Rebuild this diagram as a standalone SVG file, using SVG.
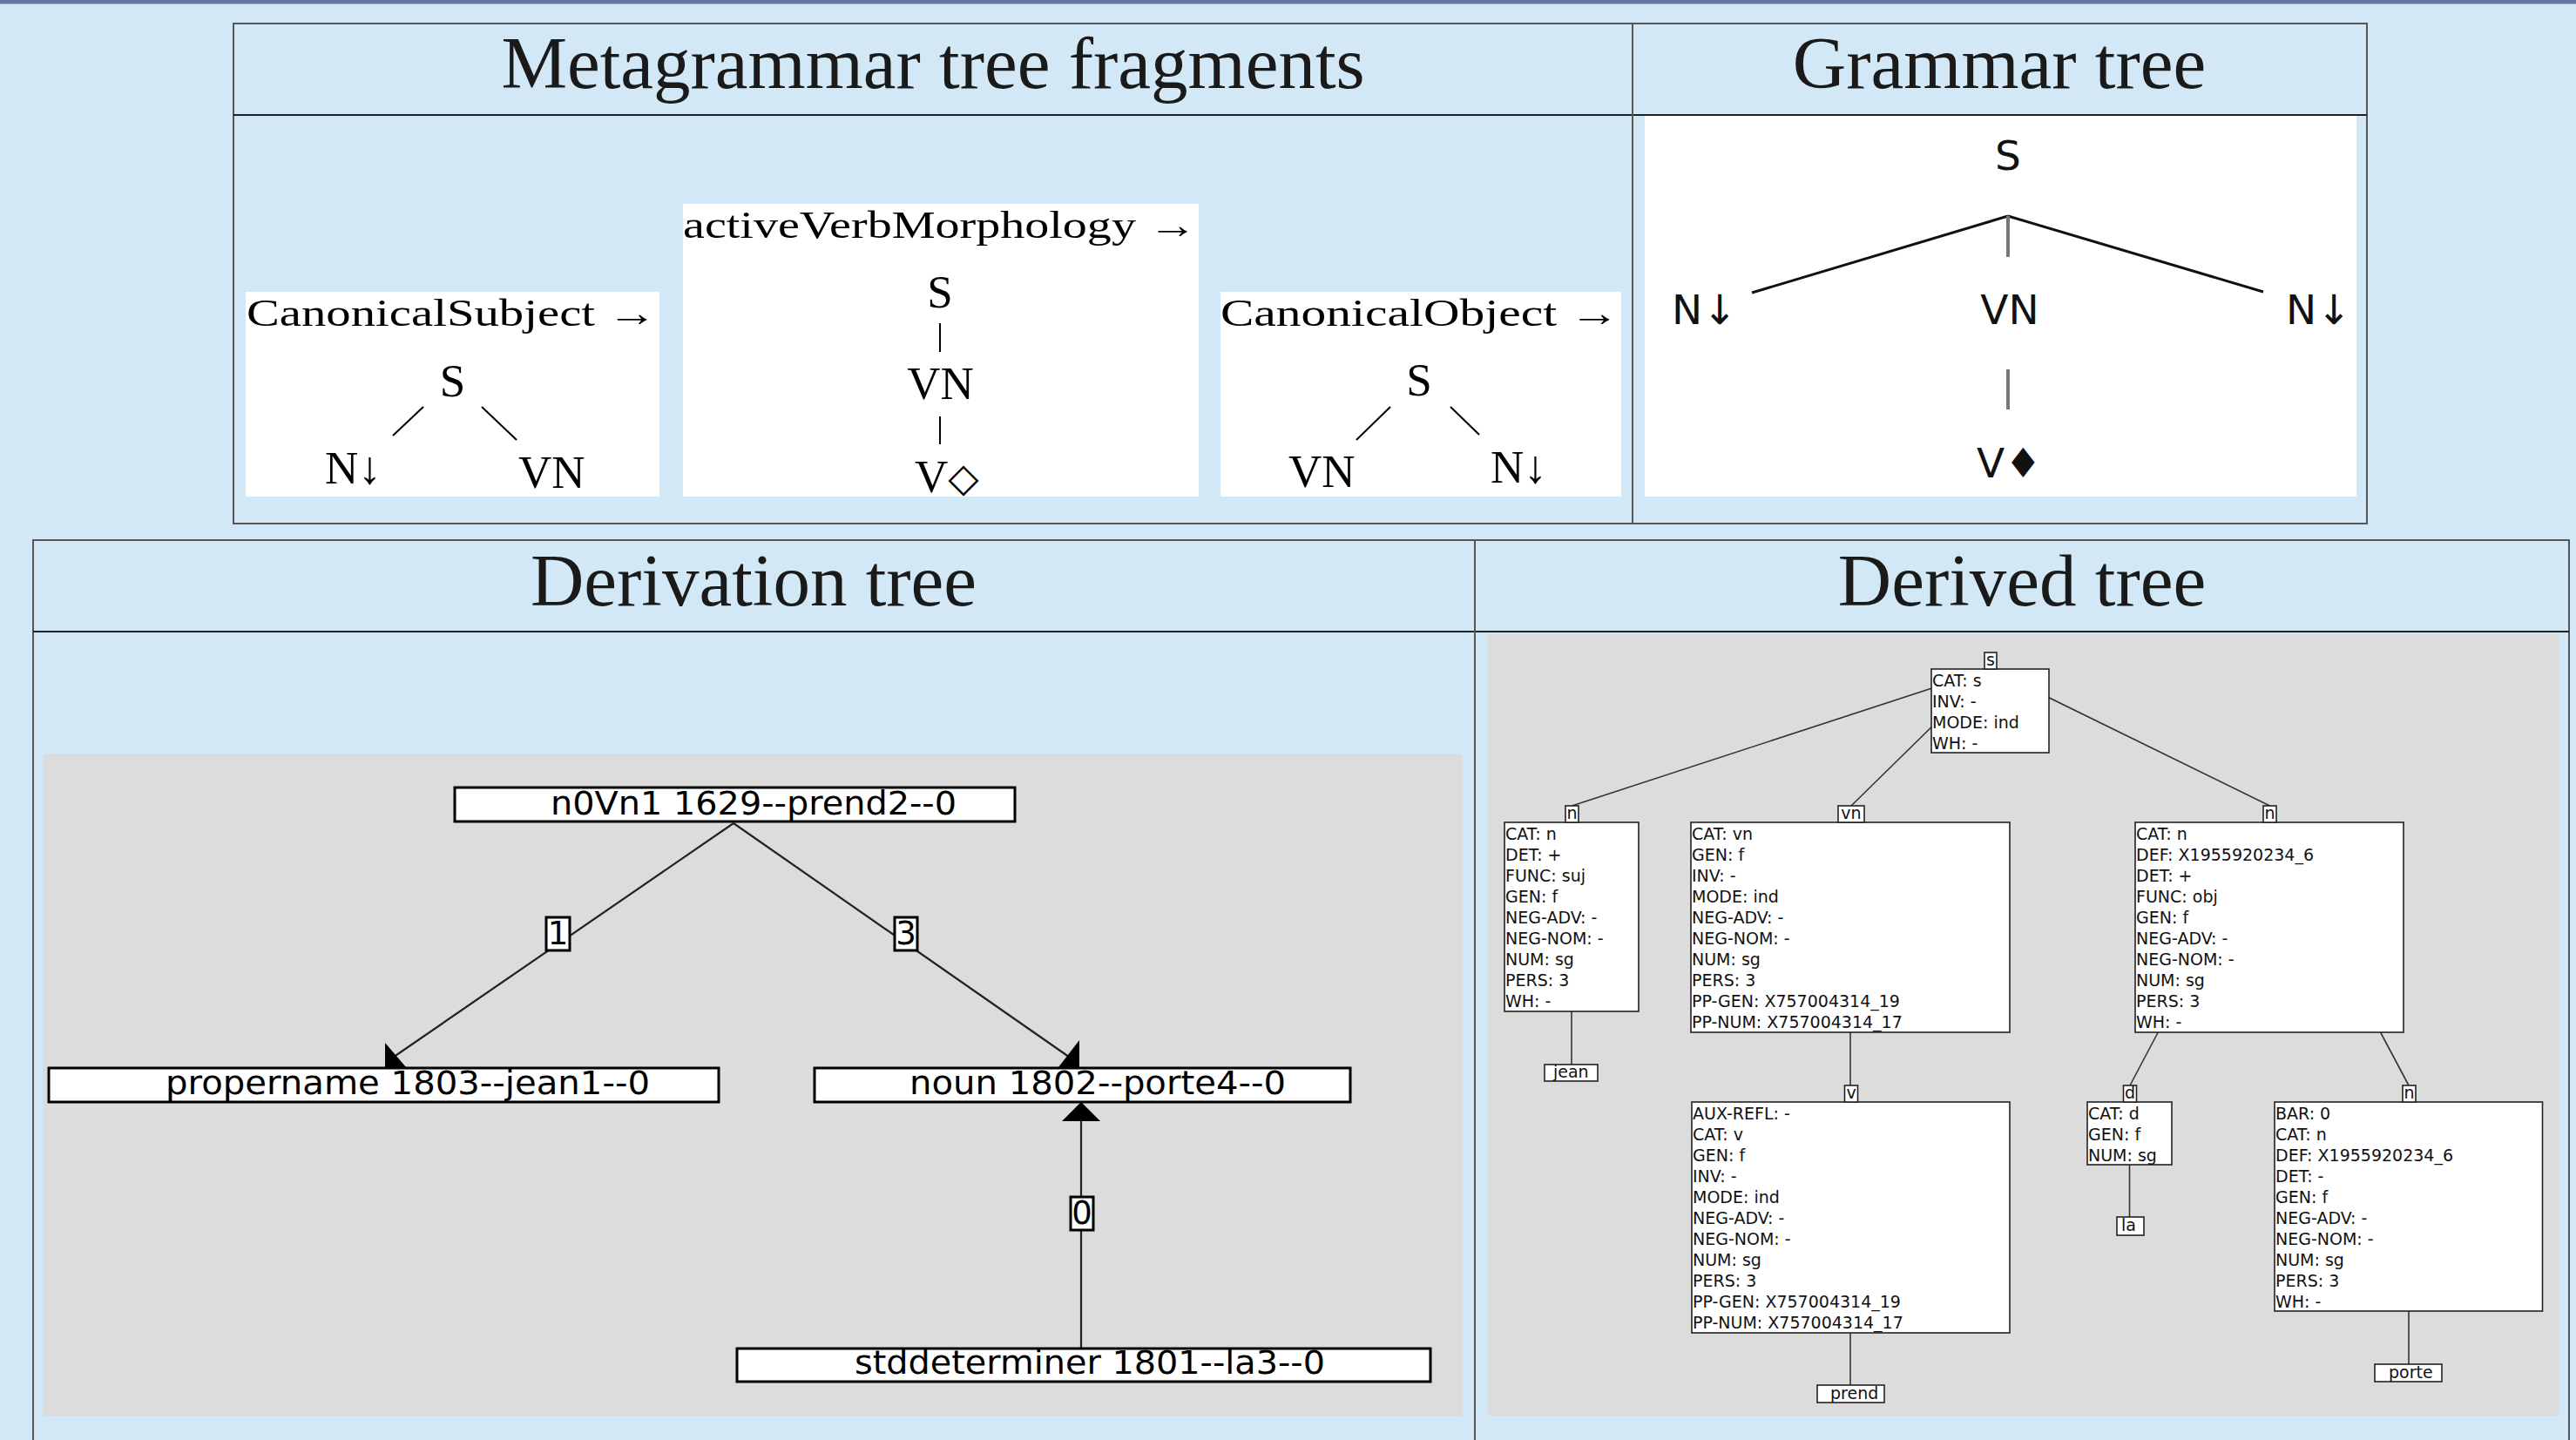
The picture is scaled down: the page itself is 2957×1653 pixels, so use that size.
<svg xmlns="http://www.w3.org/2000/svg" width="2957" height="1653" viewBox="0 0 2957 1653">
  <style>
    .title { font-family: "Liberation Serif", "Times New Roman", serif; font-size: 85px; fill: #1a1a1a; text-anchor: middle; }
    .panel { fill: none; stroke: #555; stroke-width: 2; }
    .rule { stroke: #222; stroke-width: 2; }
    .cm { font-family: "Liberation Serif", "Times New Roman", serif; fill: #000; }
    .frag-label { font-size: 44px; }
    .frag-node { font-size: 53px; }
    .frag-edge { stroke: #000; stroke-width: 2; }
    .gt { font-family: "DejaVu Sans", sans-serif; font-size: 47px; fill: #111; }
    .gt-edge { stroke: #111; stroke-width: 3; }
    .gt-stem { stroke: #777; stroke-width: 4; }
    .dv-box { fill: #fff; stroke: #000; stroke-width: 3; }
    .dv-text { font-family: "DejaVu Sans", sans-serif; font-size: 37px; fill: #000; }
    .dv-edge { stroke: #222; stroke-width: 2.2; fill: none; }
    .fs-box { fill: #fff; stroke: #222; stroke-width: 1.6; }
    .fs-text { font-family: "DejaVu Sans", sans-serif; font-size: 19px; fill: #111; }
    .fs-edge { stroke: #333; stroke-width: 1.6; }
  </style>

  <!-- page background and top bar -->
  <rect x="0" y="0" width="2957" height="1653" fill="#d3e8f6"/>
  <rect x="0" y="0" width="2957" height="4.5" fill="#64799f"/>

  <!-- upper table: fragments and grammar tree -->
  <g id="upper-table">
    <rect class="panel" x="268" y="27" width="2449" height="574"/>
    <line class="rule" x1="268" y1="132" x2="2717" y2="132"/>
    <line class="panel" x1="1874" y1="27" x2="1874" y2="601"/>
    <text class="title" x="1071" y="101">Metagrammar tree fragments</text>
    <text class="title" x="2295" y="101">Grammar tree</text>
  </g>

  <!-- fragment: CanonicalSubject -->
  <g id="frag-subject">
    <rect x="282" y="335" width="475" height="235" fill="#fff"/>
    <text class="cm frag-label" x="283" y="374" textLength="471" lengthAdjust="spacingAndGlyphs">CanonicalSubject →</text>
    <text class="cm frag-node" x="519.5" y="455" text-anchor="middle">S</text>
    <line class="frag-edge" x1="486" y1="467" x2="451" y2="500"/>
    <line class="frag-edge" x1="553" y1="467" x2="593" y2="505"/>
    <text class="cm frag-node" x="373" y="555">N↓</text>
    <text class="cm frag-node" x="595" y="560">VN</text>
  </g>

  <!-- fragment: activeVerbMorphology -->
  <g id="frag-verb">
    <rect x="784" y="234" width="592" height="336" fill="#fff"/>
    <text class="cm frag-label" x="784" y="273" textLength="590" lengthAdjust="spacingAndGlyphs">activeVerbMorphology →</text>
    <text class="cm frag-node" x="1079" y="353" text-anchor="middle">S</text>
    <line class="frag-edge" x1="1079" y1="371" x2="1079" y2="404"/>
    <text class="cm frag-node" x="1079.5" y="458" text-anchor="middle">VN</text>
    <line class="frag-edge" x1="1079" y1="478" x2="1079" y2="510"/>
    <text class="cm frag-node" x="1050" y="565">V<tspan font-family="DejaVu Sans, sans-serif" font-size="46px" dx="0" dy="-1">◇</tspan></text>
  </g>

  <!-- fragment: CanonicalObject -->
  <g id="frag-object">
    <rect x="1401" y="335" width="460" height="235" fill="#fff"/>
    <text class="cm frag-label" x="1401" y="374" textLength="458" lengthAdjust="spacingAndGlyphs">CanonicalObject →</text>
    <text class="cm frag-node" x="1629" y="454" text-anchor="middle">S</text>
    <line class="frag-edge" x1="1596" y1="467" x2="1557" y2="505"/>
    <line class="frag-edge" x1="1665" y1="467" x2="1698" y2="499"/>
    <text class="cm frag-node" x="1479" y="559">VN</text>
    <text class="cm frag-node" x="1711" y="554">N↓</text>
  </g>

  <!-- grammar tree -->
  <g id="grammar-tree">
    <rect x="1888" y="133" width="817" height="437" fill="#fff"/>
    <text class="gt" x="2305" y="195" text-anchor="middle">S</text>
    <line class="gt-edge" x1="2305" y1="248" x2="2011" y2="336"/>
    <line class="gt-edge" x1="2305" y1="248" x2="2598" y2="335"/>
    <line class="gt-stem" x1="2305" y1="248" x2="2305" y2="295"/>
    <text class="gt" x="1919" y="372">N↓</text>
    <text class="gt" x="2307" y="372" text-anchor="middle">VN</text>
    <text class="gt" x="2624" y="372">N↓</text>
    <line class="gt-stem" x1="2305" y1="424" x2="2305" y2="470"/>
    <text class="gt" x="2269" y="548">V♦</text>
  </g>

  <!-- lower table: derivation and derived trees -->
  <g id="lower-table">
    <rect class="panel" x="38" y="620" width="2911" height="1100"/>
    <line class="rule" x1="38" y1="725" x2="2949" y2="725"/>
    <line class="panel" x1="1693" y1="620" x2="1693" y2="1653"/>
    <text class="title" x="865" y="695">Derivation tree</text>
    <text class="title" x="2321" y="695">Derived tree</text>
    <rect x="49" y="865" width="1630" height="760" fill="#dcdcdc"/>
    <rect x="1708" y="727" width="1229" height="898" fill="#dcdcdc"/>
  </g>

  <!-- derivation tree connectors -->
  <g id="derivation-edges">
    <line class="dv-edge" x1="842" y1="945" x2="445" y2="1218"/>
    <line class="dv-edge" x1="842" y1="945" x2="1234" y2="1218"/>
    <line class="dv-edge" x1="1241" y1="1547" x2="1241" y2="1284"/>
    <polygon points="442,1197 466,1225 442,1226" fill="#000"/>
    <polygon points="1239,1194 1239,1226 1215,1225" fill="#000"/>
    <polygon points="1241,1265 1219,1287 1263,1287" fill="#000"/>
    <g id="edge-label-1">
      <rect class="dv-box" x="627" y="1053" width="27" height="38"/>
      <text class="dv-text" x="640.5" y="1084" text-anchor="middle">1</text>
    </g>
    <g id="edge-label-3">
      <rect class="dv-box" x="1027" y="1053" width="26" height="38"/>
      <text class="dv-text" x="1040" y="1084" text-anchor="middle">3</text>
    </g>
    <g id="edge-label-0">
      <rect class="dv-box" x="1229" y="1374" width="26" height="38"/>
      <text class="dv-text" x="1242" y="1405" text-anchor="middle">0</text>
    </g>
  </g>

  <!-- derivation tree nodes -->
  <g id="dv-prend">
    <rect class="dv-box" x="522" y="904" width="643" height="39"/>
    <text class="dv-text" x="632" y="935" textLength="466" lengthAdjust="spacingAndGlyphs">n0Vn1  1629--prend2--0</text>
  </g>
  <g id="dv-jean">
    <rect class="dv-box" x="56" y="1226" width="769" height="39"/>
    <text class="dv-text" x="190" y="1256" textLength="556" lengthAdjust="spacingAndGlyphs">propername  1803--jean1--0</text>
  </g>
  <g id="dv-porte">
    <rect class="dv-box" x="935" y="1226" width="615" height="39"/>
    <text class="dv-text" x="1044" y="1256" textLength="432" lengthAdjust="spacingAndGlyphs">noun  1802--porte4--0</text>
  </g>
  <g id="dv-la">
    <rect class="dv-box" x="846" y="1548" width="796" height="38"/>
    <text class="dv-text" x="981" y="1577" textLength="540" lengthAdjust="spacingAndGlyphs">stddeterminer  1801--la3--0</text>
  </g>

  <!-- derived tree connectors -->
  <g id="derived-edges">
    <line class="fs-edge" x1="2285" y1="768" x2="1804.5" y2="925"/>
    <line class="fs-edge" x1="2285" y1="768" x2="2125" y2="925"/>
    <line class="fs-edge" x1="2285" y1="768" x2="2605.5" y2="925"/>
    <line class="fs-edge" x1="1804" y1="1161" x2="1804" y2="1222"/>
    <line class="fs-edge" x1="2124" y1="1185" x2="2124" y2="1246"/>
    <line class="fs-edge" x1="2124" y1="1530" x2="2124" y2="1590"/>
    <line class="fs-edge" x1="2604.5" y1="944" x2="2445" y2="1246"/>
    <line class="fs-edge" x1="2604.5" y1="944" x2="2765" y2="1246"/>
    <line class="fs-edge" x1="2444.5" y1="1337" x2="2444.5" y2="1397"/>
    <line class="fs-edge" x1="2765" y1="1505" x2="2765" y2="1566"/>
  </g>

  <!-- derived tree nodes -->
  <g id="ft-s">
    <rect class="fs-box" x="2217" y="768" width="135" height="96"/>
    <rect class="fs-box" x="2278" y="749" width="14" height="19"/>
    <text class="fs-text" x="2285" y="764" text-anchor="middle">s</text>
    <text class="fs-text" x="2218">
      <tspan x="2218" y="788">CAT: s</tspan>
      <tspan x="2218" y="812">INV: -</tspan>
      <tspan x="2218" y="836">MODE: ind</tspan>
      <tspan x="2218" y="860">WH: -</tspan>
    </text>
  </g>

  <g id="ft-n-subj">
    <rect class="fs-box" x="1727" y="944" width="154" height="217"/>
    <rect class="fs-box" x="1797" y="925" width="15" height="19"/>
    <text class="fs-text" x="1804.5" y="940" text-anchor="middle">n</text>
    <text class="fs-text">
      <tspan x="1728" y="964">CAT: n</tspan>
      <tspan x="1728" y="988">DET: +</tspan>
      <tspan x="1728" y="1012">FUNC: suj</tspan>
      <tspan x="1728" y="1036">GEN: f</tspan>
      <tspan x="1728" y="1060">NEG-ADV: -</tspan>
      <tspan x="1728" y="1084">NEG-NOM: -</tspan>
      <tspan x="1728" y="1108">NUM: sg</tspan>
      <tspan x="1728" y="1132">PERS: 3</tspan>
      <tspan x="1728" y="1156">WH: -</tspan>
    </text>
  </g>

  <g id="ft-jean">
    <rect class="fs-box" x="1773" y="1222" width="61" height="19"/>
    <text class="fs-text" x="1783" y="1237">jean</text>
  </g>

  <g id="ft-vn">
    <rect class="fs-box" x="1941" y="944" width="366" height="241"/>
    <rect class="fs-box" x="2110" y="925" width="30" height="19"/>
    <text class="fs-text" x="2125" y="940" text-anchor="middle">vn</text>
    <text class="fs-text">
      <tspan x="1942" y="964">CAT: vn</tspan>
      <tspan x="1942" y="988">GEN: f</tspan>
      <tspan x="1942" y="1012">INV: -</tspan>
      <tspan x="1942" y="1036">MODE: ind</tspan>
      <tspan x="1942" y="1060">NEG-ADV: -</tspan>
      <tspan x="1942" y="1084">NEG-NOM: -</tspan>
      <tspan x="1942" y="1108">NUM: sg</tspan>
      <tspan x="1942" y="1132">PERS: 3</tspan>
      <tspan x="1942" y="1156">PP-GEN: X757004314_19</tspan>
      <tspan x="1942" y="1180">PP-NUM: X757004314_17</tspan>
    </text>
  </g>

  <g id="ft-v">
    <rect class="fs-box" x="1942" y="1265" width="365" height="265"/>
    <rect class="fs-box" x="2117.5" y="1246" width="15" height="19"/>
    <text class="fs-text" x="2125" y="1261" text-anchor="middle">v</text>
    <text class="fs-text">
      <tspan x="1943" y="1285">AUX-REFL: -</tspan>
      <tspan x="1943" y="1309">CAT: v</tspan>
      <tspan x="1943" y="1333">GEN: f</tspan>
      <tspan x="1943" y="1357">INV: -</tspan>
      <tspan x="1943" y="1381">MODE: ind</tspan>
      <tspan x="1943" y="1405">NEG-ADV: -</tspan>
      <tspan x="1943" y="1429">NEG-NOM: -</tspan>
      <tspan x="1943" y="1453">NUM: sg</tspan>
      <tspan x="1943" y="1477">PERS: 3</tspan>
      <tspan x="1943" y="1501">PP-GEN: X757004314_19</tspan>
      <tspan x="1943" y="1525">PP-NUM: X757004314_17</tspan>
    </text>
  </g>

  <g id="ft-prend">
    <rect class="fs-box" x="2086" y="1590" width="77" height="20"/>
    <text class="fs-text" x="2101" y="1606">prend</text>
  </g>

  <g id="ft-n-obj">
    <rect class="fs-box" x="2451" y="944" width="308" height="241"/>
    <rect class="fs-box" x="2598" y="925" width="15" height="19"/>
    <text class="fs-text" x="2605.5" y="940" text-anchor="middle">n</text>
    <text class="fs-text">
      <tspan x="2452" y="964">CAT: n</tspan>
      <tspan x="2452" y="988">DEF: X1955920234_6</tspan>
      <tspan x="2452" y="1012">DET: +</tspan>
      <tspan x="2452" y="1036">FUNC: obj</tspan>
      <tspan x="2452" y="1060">GEN: f</tspan>
      <tspan x="2452" y="1084">NEG-ADV: -</tspan>
      <tspan x="2452" y="1108">NEG-NOM: -</tspan>
      <tspan x="2452" y="1132">NUM: sg</tspan>
      <tspan x="2452" y="1156">PERS: 3</tspan>
      <tspan x="2452" y="1180">WH: -</tspan>
    </text>
  </g>

  <g id="ft-d">
    <rect class="fs-box" x="2396" y="1265" width="97" height="72"/>
    <rect class="fs-box" x="2437.5" y="1246" width="15" height="19"/>
    <text class="fs-text" x="2445" y="1261" text-anchor="middle">d</text>
    <text class="fs-text">
      <tspan x="2397" y="1285">CAT: d</tspan>
      <tspan x="2397" y="1309">GEN: f</tspan>
      <tspan x="2397" y="1333">NUM: sg</tspan>
    </text>
  </g>

  <g id="ft-la">
    <rect class="fs-box" x="2430" y="1397" width="31" height="21"/>
    <text class="fs-text" x="2435" y="1413">la</text>
  </g>

  <g id="ft-n-head">
    <rect class="fs-box" x="2611" y="1265" width="307.5" height="240"/>
    <rect class="fs-box" x="2758" y="1246" width="15" height="19"/>
    <text class="fs-text" x="2765.5" y="1261" text-anchor="middle">n</text>
    <text class="fs-text">
      <tspan x="2612" y="1285">BAR: 0</tspan>
      <tspan x="2612" y="1309">CAT: n</tspan>
      <tspan x="2612" y="1333">DEF: X1955920234_6</tspan>
      <tspan x="2612" y="1357">DET: -</tspan>
      <tspan x="2612" y="1381">GEN: f</tspan>
      <tspan x="2612" y="1405">NEG-ADV: -</tspan>
      <tspan x="2612" y="1429">NEG-NOM: -</tspan>
      <tspan x="2612" y="1453">NUM: sg</tspan>
      <tspan x="2612" y="1477">PERS: 3</tspan>
      <tspan x="2612" y="1501">WH: -</tspan>
    </text>
  </g>

  <g id="ft-porte">
    <rect class="fs-box" x="2726" y="1566" width="77" height="20"/>
    <text class="fs-text" x="2742" y="1582">porte</text>
  </g>
</svg>
